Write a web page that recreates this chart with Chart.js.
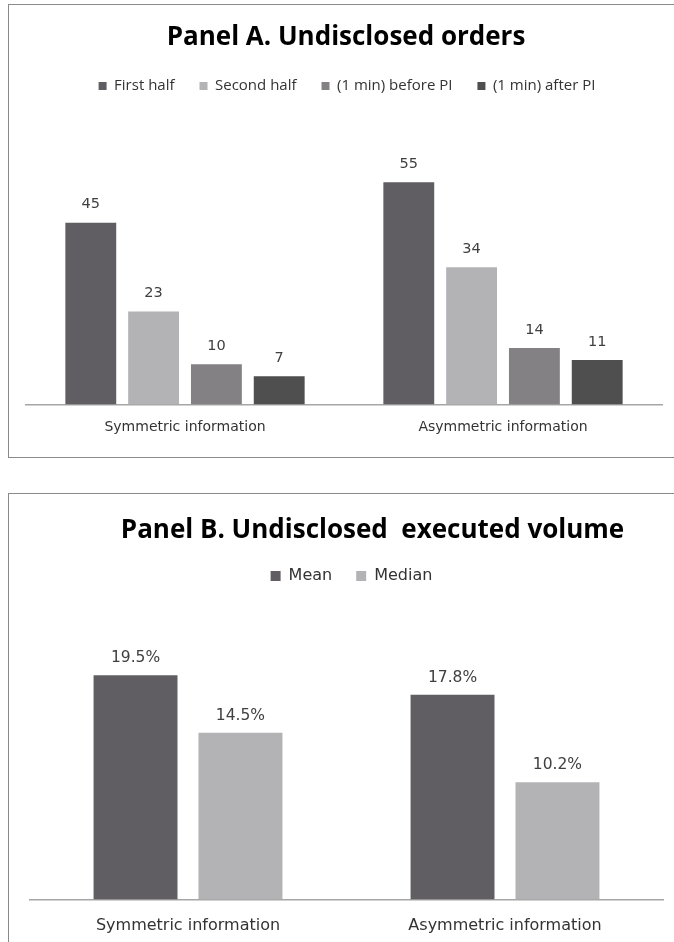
<!DOCTYPE html>
<html>
<head>
<meta charset="utf-8">
<script src="https://cdn.jsdelivr.net/npm/chart.js@4/dist/chart.umd.min.js"></script>
<style>
  html, body { margin: 0; padding: 0; background: #fff; }
  body { width: 674px; height: 942px; overflow: hidden; position: relative; }
  .panel { position: absolute; left: 8px; width: 700px; border: 1px solid #8a8a8a; background: #fff; }
  #boxA { top: 4px; height: 452px; }
  #boxB { top: 493px; height: 480px; }
  canvas { display: block; }
</style>
</head>
<body>
<div class="panel" id="boxA"><canvas id="chartA" width="665" height="452"></canvas></div>
<div class="panel" id="boxB"><canvas id="chartB" width="665" height="464"></canvas></div>
<script>
// Panel A - undisclosed orders
const categories = ['Symmetric information', 'Asymmetric information'];
const firstHalf = [45, 55];
const secondHalf = [23, 34];
const beforePI = [10, 14];
const afterPI = [7, 11];

// Panel B - undisclosed executed volume (%)
const meanVol = [19.5, 17.8];
const medianVol = [14.5, 10.2];

const colA = ['#605e62', '#b3b2b4', '#838184', '#4f4f50'];
const colB = ['#605e62', '#b3b2b4'];

// value labels above each bar
const valueLabels = {
  id: 'valueLabels',
  afterDatasetsDraw(chart, args, opts) {
    const ctx = chart.ctx;
    ctx.save();
    ctx.font = opts.font;
    ctx.fillStyle = '#404040';
    ctx.textAlign = 'center';
    ctx.textBaseline = 'middle';
    chart.data.datasets.forEach((ds, i) => {
      chart.getDatasetMeta(i).data.forEach((bar, j) => {
        ctx.fillText(opts.format(ds.data[j]), bar.x, bar.y - opts.offset);
      });
    });
    ctx.restore();
  }
};

// small shifts for title / legend like the excel layout
const nudge = {
  id: 'nudge',
  afterInit(chart, args, opts) {
    const legend = chart.legend;
    const fit = legend.fit;
    legend.fit = function () {
      fit.call(this);
      this.height += opts.legendGap || 0;
    };
  },
  afterLayout(chart, args, opts) {
    const t = chart.titleBlock, l = chart.legend;
    if (t && opts.titleDx) { t.left += opts.titleDx; t.right += opts.titleDx; }
    if (l && opts.legendDx) { l.left += opts.legendDx; l.right += opts.legendDx; }
  }
};

function xAxis(size, pad) {
  return {
    grid: { display: false, drawTicks: false },
    border: { color: '#a6a6a6', width: 1.5 },
    ticks: { color: '#333', font: { family: '"DejaVu Sans"', size: size }, padding: pad }
  };
}

new Chart(document.getElementById('chartA'), {
  type: 'bar',
  data: {
    labels: categories,
    datasets: [
      { label: 'First half', data: firstHalf, backgroundColor: colA[0] },
      { label: 'Second half', data: secondHalf, backgroundColor: colA[1] },
      { label: '(1 min) before PI', data: beforePI, backgroundColor: colA[2] },
      { label: '(1 min) after PI', data: afterPI, backgroundColor: colA[3] }
    ]
  },
  options: {
    responsive: false,
    animation: false,
    categoryPercentage: 0.79,
    barPercentage: 0.81,
    layout: { padding: { left: 17, right: 12, top: 0, bottom: 6 } },
    scales: {
      x: xAxis(14, 14.8),
      y: { display: false, min: 0, max: 60 }
    },
    plugins: {
      title: {
        display: true,
        text: 'Panel A. Undisclosed orders',
        color: '#000',
        font: { family: '"Open Sans"', size: 26, weight: 'bold', lineHeight: 1 },
        padding: { top: 20, bottom: 2.5 }
      },
      legend: {
        labels: {
          boxWidth: 8, boxHeight: 8, padding: 25, color: '#333',
          font: { family: '"Open Sans"', size: 15 }
        }
      },
      tooltip: { enabled: false },
      valueLabels: { font: '14.5px "DejaVu Sans"', offset: 18, format: v => `${v}` },
      nudge: { legendGap: 58.5, titleDx: 2, legendDx: 3 }
    }
  },
  plugins: [valueLabels, nudge]
});

new Chart(document.getElementById('chartB'), {
  type: 'bar',
  data: {
    labels: categories,
    datasets: [
      { label: 'Mean', data: meanVol, backgroundColor: colB[0] },
      { label: 'Median', data: medianVol, backgroundColor: colB[1] }
    ]
  },
  options: {
    responsive: false,
    animation: false,
    categoryPercentage: 0.662,
    barPercentage: 0.8,
    layout: { padding: { left: 20.5, right: 10.5, top: 0, bottom: 6 } },
    scales: {
      x: xAxis(16, 16.6),
      y: { display: false, min: 0, max: 25 }
    },
    plugins: {
      title: {
        display: true,
        text: 'Panel B. Undisclosed  executed volume',
        color: '#000',
        font: { family: '"Open Sans"', size: 26, weight: 'bold', lineHeight: 1 },
        padding: { top: 24, bottom: 0 }
      },
      legend: {
        labels: {
          boxWidth: 10, boxHeight: 10, padding: 24, color: '#333',
          font: { family: '"DejaVu Sans"', size: 16 }
        }
      },
      tooltip: { enabled: false },
      valueLabels: { font: '15.5px "DejaVu Sans"', offset: 17, format: v => v.toFixed(1) + '%' },
      nudge: { legendGap: 18, titleDx: 26, legendDx: 5 }
    }
  },
  plugins: [valueLabels, nudge]
});
</script>
</body>
</html>
